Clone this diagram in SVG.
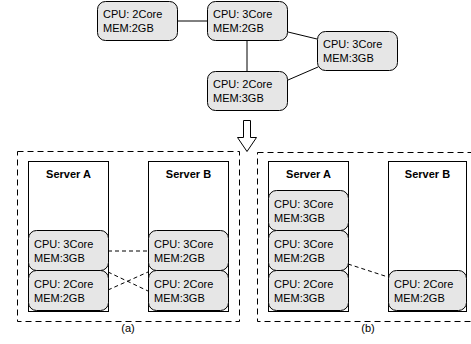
<svg xmlns="http://www.w3.org/2000/svg" width="471" height="344" viewBox="0 0 471 344">
<style>
.n{fill:#e6e6e6;stroke:#000;stroke-width:1}
.t{font-family:"Liberation Sans",Arial,sans-serif;font-size:11px;fill:#000}
.b{font-family:"Liberation Sans",Arial,sans-serif;font-size:11px;font-weight:bold;fill:#000}
.srv{fill:#fff;stroke:#000;stroke-width:1}
.box{fill:none;stroke:#000;stroke-width:1;stroke-dasharray:6,4}
.e{stroke:#000;stroke-width:1;fill:none}
.d{stroke:#000;stroke-width:1;fill:none;stroke-dasharray:4,3}
</style>
<rect width="471" height="344" fill="#fff"/>
<g id="connectors">
<line class="e" x1="177" y1="21" x2="207" y2="21"/>
<line class="e" x1="247" y1="40" x2="247" y2="71"/>
<line class="e" x1="288" y1="32" x2="317" y2="39"/>
<line class="e" x1="288" y1="80" x2="318" y2="67"/>
<line class="d" x1="108" y1="251" x2="148" y2="251"/>
<line class="d" x1="108" y1="272" x2="148" y2="291"/>
<line class="d" x1="108" y1="290" x2="148" y2="272"/>
<line class="d" x1="348" y1="264" x2="388" y2="277"/>
</g>
<g id="top1"><rect class="n" x="97.5" y="1.5" width="80" height="39" rx="8"/><text class="t" x="103" y="18">CPU: 2Core</text><text class="t" x="103" y="32">MEM:2GB</text></g>
<g id="top2"><rect class="n" x="207.5" y="1.5" width="80" height="39" rx="8"/><text class="t" x="213" y="18">CPU: 3Core</text><text class="t" x="213" y="32">MEM:2GB</text></g>
<g id="top3"><rect class="n" x="317.5" y="31.5" width="80" height="39" rx="8"/><text class="t" x="323" y="48">CPU: 3Core</text><text class="t" x="323" y="62">MEM:3GB</text></g>
<g id="top4"><rect class="n" x="207.5" y="71.5" width="80" height="39" rx="8"/><text class="t" x="213" y="88">CPU: 2Core</text><text class="t" x="213" y="102">MEM:3GB</text></g>
<g id="arrow"><path d="M243.5,120.5 H250.5 V137.5 H256.5 L247,151.5 L237.5,137.5 H243.5 Z" fill="#fff" stroke="#000" stroke-width="1"/></g>
<g id="panelA">
<rect class="box" x="17.5" y="151.5" width="222" height="170"/>
<g id="a_serverA"><rect class="srv" x="28.5" y="161.5" width="80" height="150"/><text class="b" x="68.5" y="178" text-anchor="middle">Server A</text></g>
<g id="a_serverB"><rect class="srv" x="148.5" y="161.5" width="80" height="150"/><text class="b" x="188.5" y="178" text-anchor="middle">Server B</text></g>
<g id="a_A1"><rect class="n" x="28.5" y="230.5" width="80" height="40" rx="8"/><text class="t" x="34" y="248">CPU: 3Core</text><text class="t" x="34" y="262">MEM:3GB</text></g>
<g id="a_A2"><rect class="n" x="28.5" y="270.5" width="80" height="40" rx="8"/><text class="t" x="34" y="288">CPU: 2Core</text><text class="t" x="34" y="302">MEM:2GB</text></g>
<g id="a_B1"><rect class="n" x="148.5" y="230.5" width="80" height="40" rx="8"/><text class="t" x="154" y="248">CPU: 3Core</text><text class="t" x="154" y="262">MEM:2GB</text></g>
<g id="a_B2"><rect class="n" x="148.5" y="270.5" width="80" height="40" rx="8"/><text class="t" x="154" y="288">CPU: 2Core</text><text class="t" x="154" y="302">MEM:3GB</text></g>
<text class="t" x="128" y="332" text-anchor="middle">(a)</text>
</g>
<g id="panelB">
<rect class="box" x="257.5" y="152.5" width="222" height="169"/>
<g id="b_serverA"><rect class="srv" x="268.5" y="161.5" width="80" height="150"/><text class="b" x="308.5" y="178" text-anchor="middle">Server A</text></g>
<g id="b_serverB"><rect class="srv" x="388.5" y="161.5" width="78" height="150"/><text class="b" x="427.5" y="178" text-anchor="middle">Server B</text></g>
<g id="b_A1"><rect class="n" x="268.5" y="190.5" width="80" height="40" rx="8"/><text class="t" x="274" y="208">CPU: 3Core</text><text class="t" x="274" y="222">MEM:3GB</text></g>
<g id="b_A2"><rect class="n" x="268.5" y="230.5" width="80" height="40" rx="8"/><text class="t" x="274" y="248">CPU: 3Core</text><text class="t" x="274" y="262">MEM:2GB</text></g>
<g id="b_A3"><rect class="n" x="268.5" y="270.5" width="80" height="40" rx="8"/><text class="t" x="274" y="288">CPU: 2Core</text><text class="t" x="274" y="302">MEM:3GB</text></g>
<g id="b_B1"><rect class="n" x="388.5" y="270.5" width="78" height="40" rx="8"/><text class="t" x="394" y="288">CPU: 2Core</text><text class="t" x="394" y="302">MEM:2GB</text></g>
<text class="t" x="368" y="332" text-anchor="middle">(b)</text>
</g>
</svg>
